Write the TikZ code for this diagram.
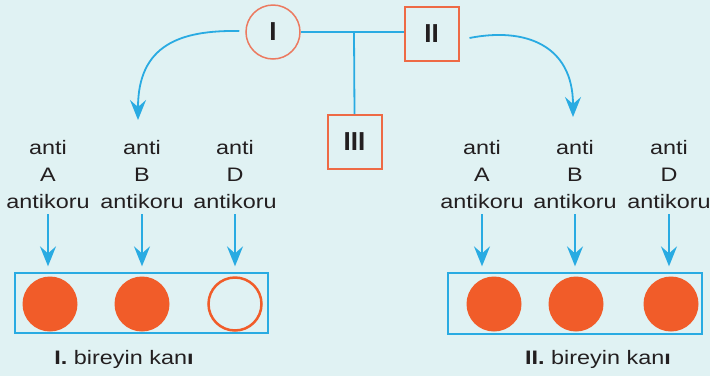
\documentclass[tikz,border=0pt]{standalone}
\usepackage{fontspec}
\setmainfont{Liberation Sans}
\usetikzlibrary{arrows.meta}
\definecolor{bg}{RGB}{224,242,243}
\definecolor{cblue}{RGB}{41,171,226}
\definecolor{corange}{RGB}{241,92,41}
\definecolor{csq}{RGB}{238,106,69}
\definecolor{ccirc}{RGB}{236,122,96}
\definecolor{ctext}{RGB}{35,31,32}
\begin{document}
\begin{tikzpicture}[x=1pt,y=-1pt,
  lbl/.style={align=center,inner sep=0pt,text=ctext,font=\fontsize{19.5}{27}\selectfont},
  roman/.style={text=ctext,font=\fontsize{26}{26}\selectfont\bfseries},
  link/.style={draw=cblue,line width=1.8pt},
  arr/.style={draw=cblue,line width=1.8pt,-{Stealth[length=20pt,width=16pt,inset=7pt]}},
  sq/.style={draw=csq,line width=2pt,minimum size=54pt,inner sep=0pt},
  cell/.style={circle,fill=corange,minimum size=55pt,inner sep=0pt},
  cellneg/.style={circle,draw=corange,line width=2.5pt,minimum size=53pt,inner sep=0pt},
  tray/.style={draw=cblue,line width=1.3pt,inner sep=0pt},
  captxt/.style={text=ctext,font=\fontsize{19.5}{19.5}\selectfont,inner sep=0pt}]
\fill[bg] (0,0) rectangle (710,376);
\useasboundingbox (0,0) rectangle (710,376);
% pedigree
\node[circle,draw=ccirc,line width=1.5pt,minimum size=54pt,inner sep=0pt] (p1) at (273,32) {};
\node[roman] at (p1) {I};
\node[sq] (p2) at (431.5,33.5) {};
\node[roman] at (p2) {II};
\node[sq] (p3) at (354.5,142) {};
\node[roman] at (p3) {III};
\coordinate (j) at (354,32);
\draw[link] (p1.east) -- (p2.west |- p1.east);
\draw[link] (j) -- (p3.north);
% curved arrows
\coordinate (t1) at (138,120);
\coordinate (t2) at (573,117);
\draw[arr] ([xshift=-6pt,yshift=1pt]p1.west) .. controls (180,30) and (138,45) .. (t1);
\draw[arr] ([xshift=10pt,yshift=-4.5pt]p2.east) .. controls (525,27) and (573,45) .. (t2);
% labels
\node[lbl] (la1) at (48,175) {\scalebox{1.2}[1]{anti}\\\scalebox{1.2}[1]{A}\\\scalebox{1.2}[1]{antikoru}};
\node[lbl] (la2) at (142,175) {\scalebox{1.2}[1]{anti}\\\scalebox{1.2}[1]{B}\\\scalebox{1.2}[1]{antikoru}};
\node[lbl] (la3) at (235,175) {\scalebox{1.2}[1]{anti}\\\scalebox{1.2}[1]{D}\\\scalebox{1.2}[1]{antikoru}};
\node[lbl] (lb1) at (482,175) {\scalebox{1.2}[1]{anti}\\\scalebox{1.2}[1]{A}\\\scalebox{1.2}[1]{antikoru}};
\node[lbl] (lb2) at (575,175) {\scalebox{1.2}[1]{anti}\\\scalebox{1.2}[1]{B}\\\scalebox{1.2}[1]{antikoru}};
\node[lbl] (lb3) at (669,175) {\scalebox{1.2}[1]{anti}\\\scalebox{1.2}[1]{D}\\\scalebox{1.2}[1]{antikoru}};
% trays
\node[tray,minimum width=253pt,minimum height=60pt] (tray1) at (141.5,303) {};
\node[tray,minimum width=254pt,minimum height=61pt] (tray2) at (575,303.5) {};
% cells
\node[cell] (c1) at (50,304) {};
\node[cell] (c2) at (142,304) {};
\node[cellneg] (c3) at (235,304) {};
\node[cell] (d1) at (494,304) {};
\node[cell] (d2) at (576,304) {};
\node[cell] (d3) at (671,304) {};
% arrows down
\foreach \n in {la1,la2,la3,lb1,lb2,lb3}{
  \draw[arr,shorten <=5pt,shorten >=6pt] (\n.south) -- (\n.south |- tray1.north);
}
% captions
\node[captxt] (k1) at (124,359) {\scalebox{1.2}[1]{\textbf{I.} bireyin kan\textbf{ı}}};
\node[captxt] (k2) at (598,359) {\scalebox{1.2}[1]{\textbf{II.} bireyin kan\textbf{ı}}};
\end{tikzpicture}
\end{document}
